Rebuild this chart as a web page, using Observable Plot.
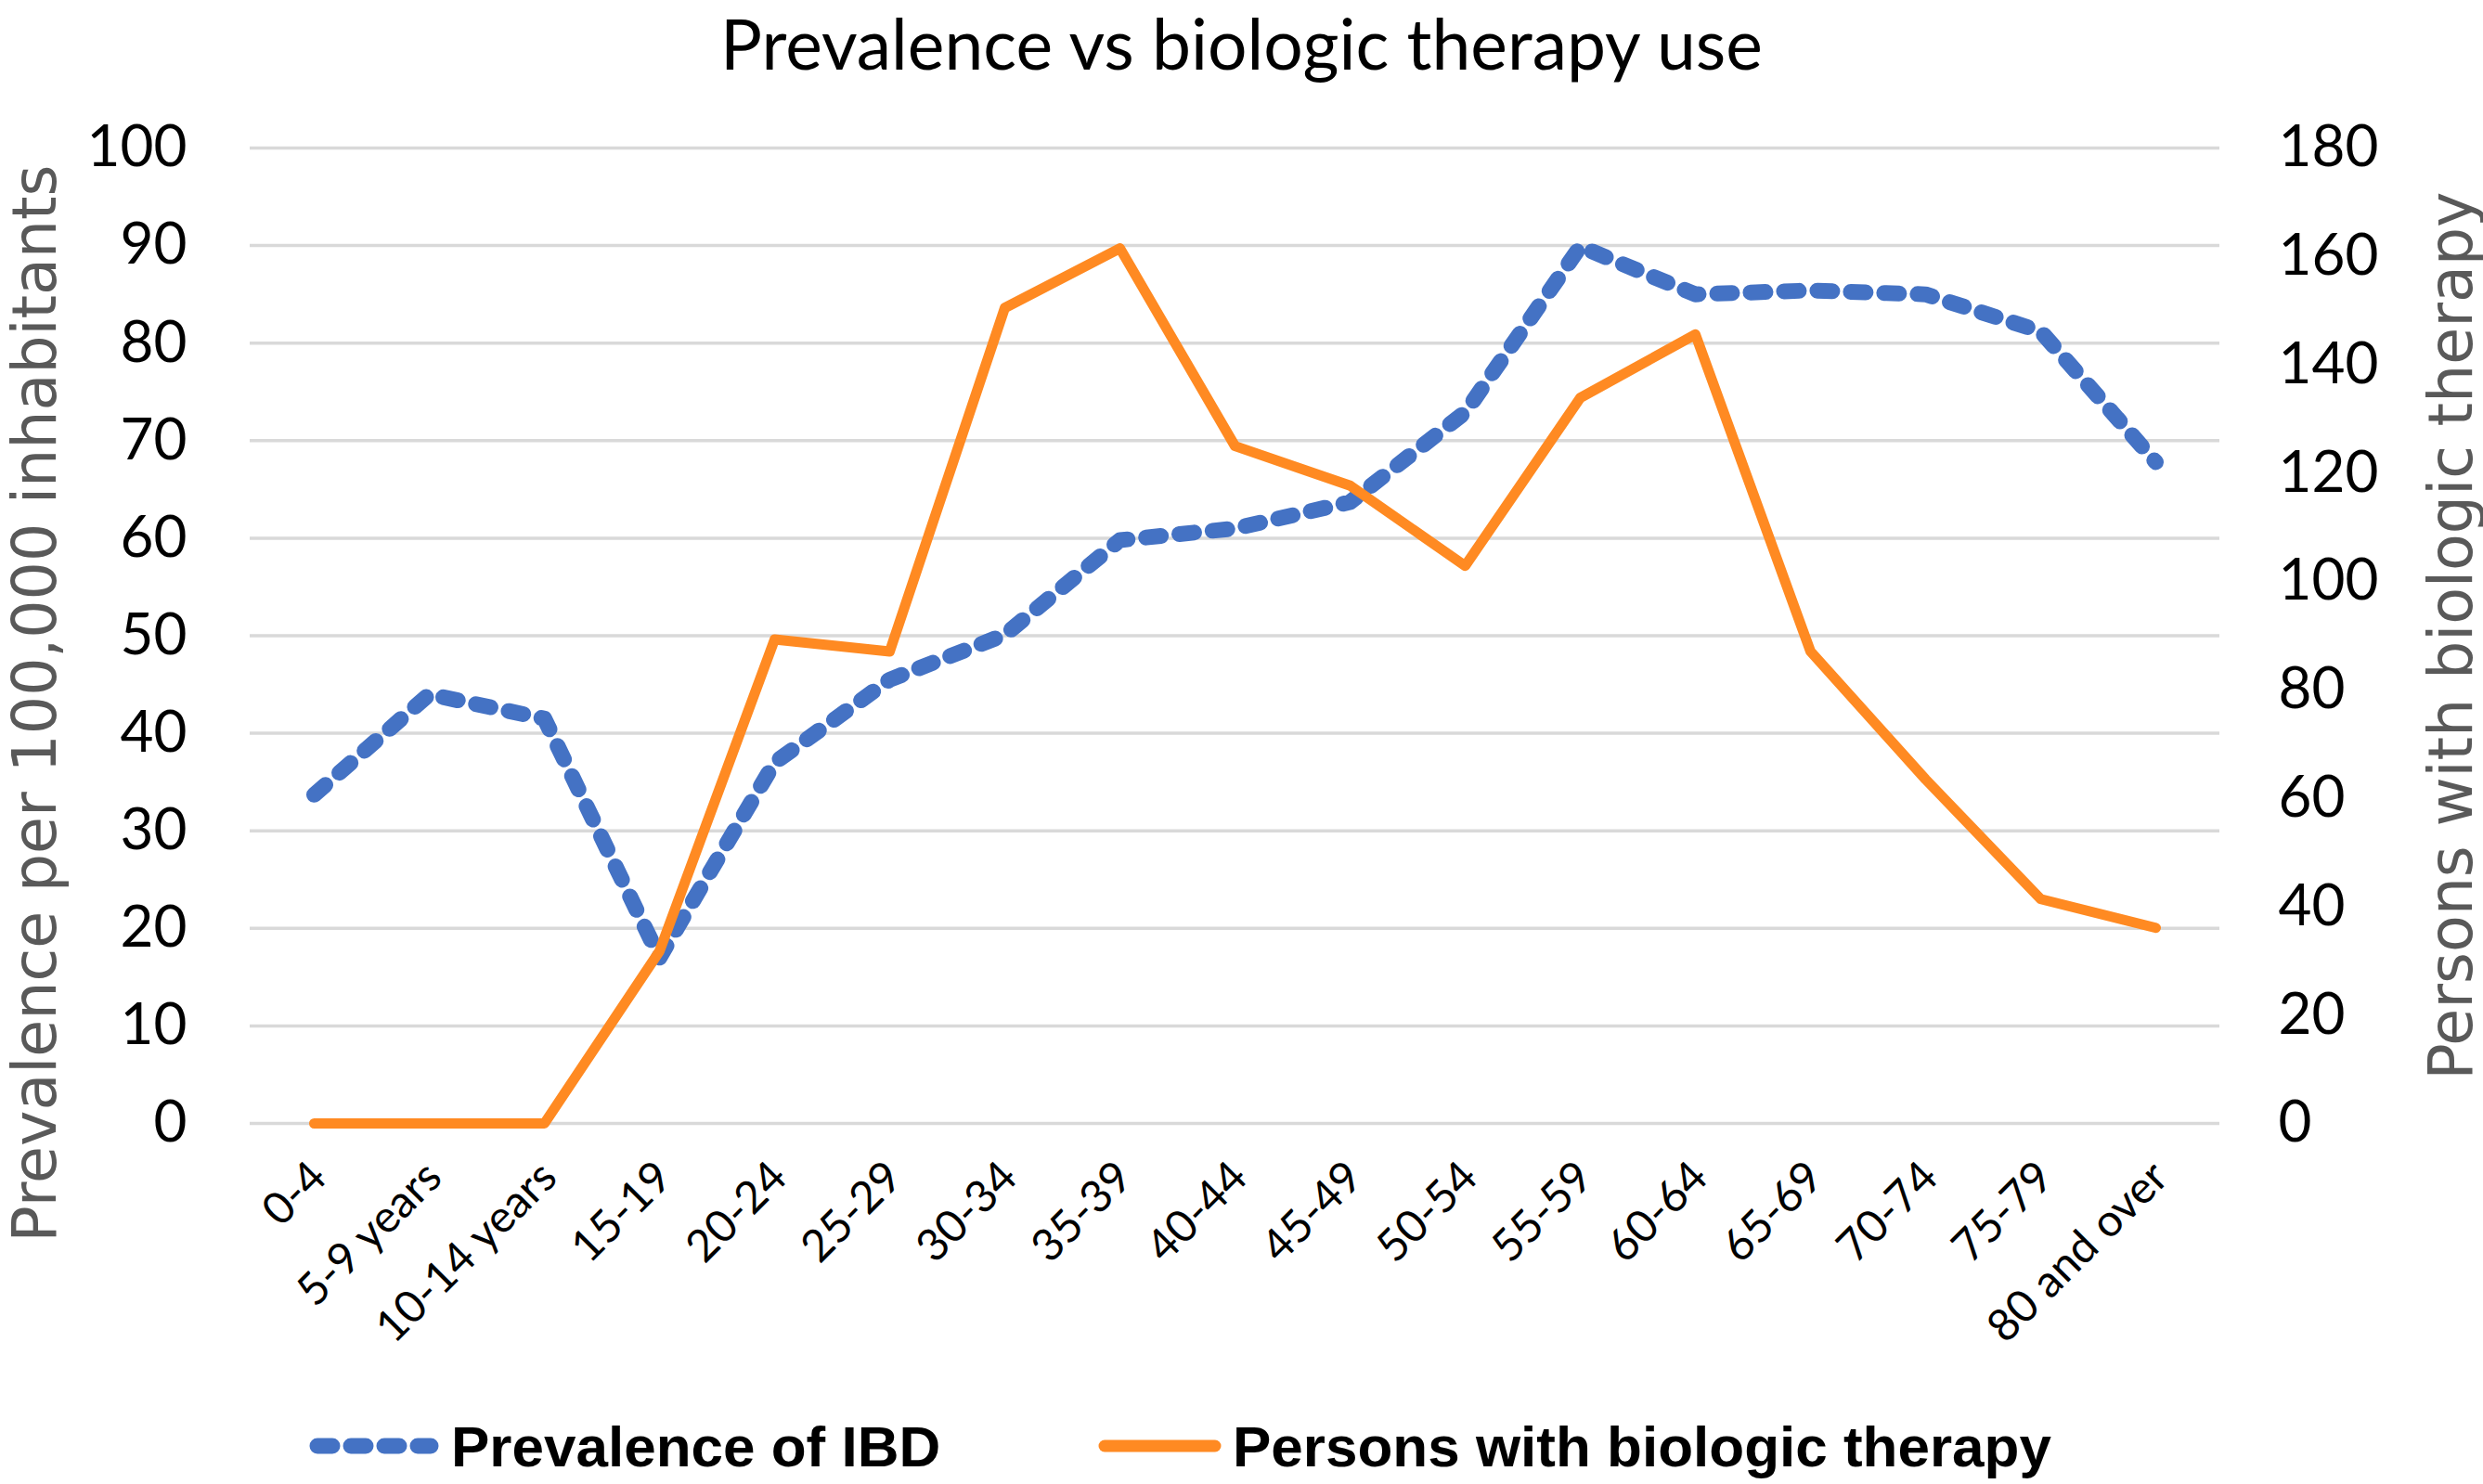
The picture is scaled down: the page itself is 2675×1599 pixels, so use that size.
<!DOCTYPE html>
<html>
<head>
<meta charset="utf-8">
<script src="https://cdn.jsdelivr.net/npm/d3@7"></script>
<script src="https://cdn.jsdelivr.net/npm/@observablehq/plot@0.6"></script>
<style>
  body { margin: 0; background: #fff; width: 2675px; height: 1599px; overflow: hidden; position: relative; }
  #title { position: absolute; top: 1px; left: 0; width: 2675px; text-align: center;
           font-family: Lato, sans-serif; font-size: 75px; line-height: 90px; color: #000; }
  #chart { position: absolute; top: 100px; left: 0; }
  .ytitle { position: absolute; white-space: nowrap; font-family: "DejaVu Sans", sans-serif;
            font-size: 65px; line-height: 70px; color: #595959;
            transform: translate(-50%, -50%) rotate(-90deg); }
  .leg { position: absolute; top: 1522px; height: 72px; display: flex; align-items: center;
         font-family: "Liberation Sans", Arial, sans-serif; font-weight: bold; font-size: 62px; color: #000; }
  .leg svg { margin-right: 12px; }
</style>
</head>
<body>
<div id="title">Prevalence vs biologic therapy use</div>
<div id="chart"></div>
<div class="ytitle" style="left:38px; top:758px">Prevalence per 100,000 inhabitants</div>
<div class="ytitle" style="left:2641px; top:685px">Persons with biologic therapy</div>
<div class="leg" style="left:332px">
  <svg width="142" height="30"><line x1="10" y1="15" x2="132" y2="15" stroke="#4472C4" stroke-width="17" stroke-dasharray="16,20" stroke-linecap="round"/></svg>
  <span>Prevalence of IBD</span>
</div>
<div class="leg" style="left:1183px">
  <svg width="133" height="30"><line x1="7" y1="15" x2="126" y2="15" stroke="#FF8A22" stroke-width="13" stroke-linecap="round"/></svg>
  <span>Persons with biologic therapy</span>
</div>
<script>
// age groups on the x axis
const ageGroups = ["0-4", "5-9 years", "10-14 years", "15-19", "20-24", "25-29", "30-34", "35-39",
  "40-44", "45-49", "50-54", "55-59", "60-64", "65-69", "70-74", "75-79", "80 and over"];

// prevalence per 100,000 inhabitants (left axis)
const prevalenceIBD = [33.7, 44, 41.5, 17, 37, 45.5, 50.1, 59.8, 61, 63.7, 72.9, 89.9, 85, 85.4, 85, 81.2, 67.8];

// persons with biologic therapy (right axis)
const biologicTherapy = [0, 0, 0, 31.8, 89.3, 87.1, 150.5, 161.5, 125, 117.7, 102.9, 133.9, 145.6, 87.1, 63.5, 41.4, 36.1];

const leftTicks = [0, 10, 20, 30, 40, 50, 60, 70, 80, 90, 100];
const rightTicks = [0, 20, 40, 60, 80, 100, 120, 140, 160, 180];
const rightMax = 180;

const rows = ageGroups.map((age, i) => ({age, prev: prevalenceIBD[i], bio: biologicTherapy[i]}));
const toLeft = v => v * 100 / rightMax;

const chart = Plot.plot({
  width: 2675,
  height: 1380,
  marginLeft: 269,
  marginRight: 284,
  marginTop: 59,
  marginBottom: 270,
  style: {fontFamily: "Lato, sans-serif", background: "#fff", color: "#000", overflow: "visible"},
  x: {type: "point", domain: ageGroups, padding: 0.5},
  y: {domain: [0, 100]},
  marks: [
    Plot.gridY(leftTicks, {stroke: "#d9d9d9", strokeOpacity: 1, strokeWidth: 3.5}),
    Plot.axisY(leftTicks, {anchor: "left", tickSize: 0, tickPadding: 68, fontSize: 62, label: null}),
    Plot.axisY(rightTicks.map(toLeft), {anchor: "right", tickSize: 0, tickPadding: 63, fontSize: 62,
      tickFormat: d => Math.round(d * rightMax / 100), label: null}),
    Plot.axisX({tickRotate: -45, tickSize: 0, tickPadding: 50, dx: 5, fontSize: 48, label: null}),
    Plot.line(rows, {x: "age", y: "prev", stroke: "#4472C4", strokeWidth: 17,
      strokeDasharray: "16,20", strokeLinecap: "round", strokeLinejoin: "round"}),
    Plot.line(rows, {x: "age", y: d => toLeft(d.bio), stroke: "#FF8A22", strokeWidth: 11,
      strokeLinecap: "round", strokeLinejoin: "round"})
  ]
});

document.getElementById("chart").appendChild(chart);
</script>
</body>
</html>
